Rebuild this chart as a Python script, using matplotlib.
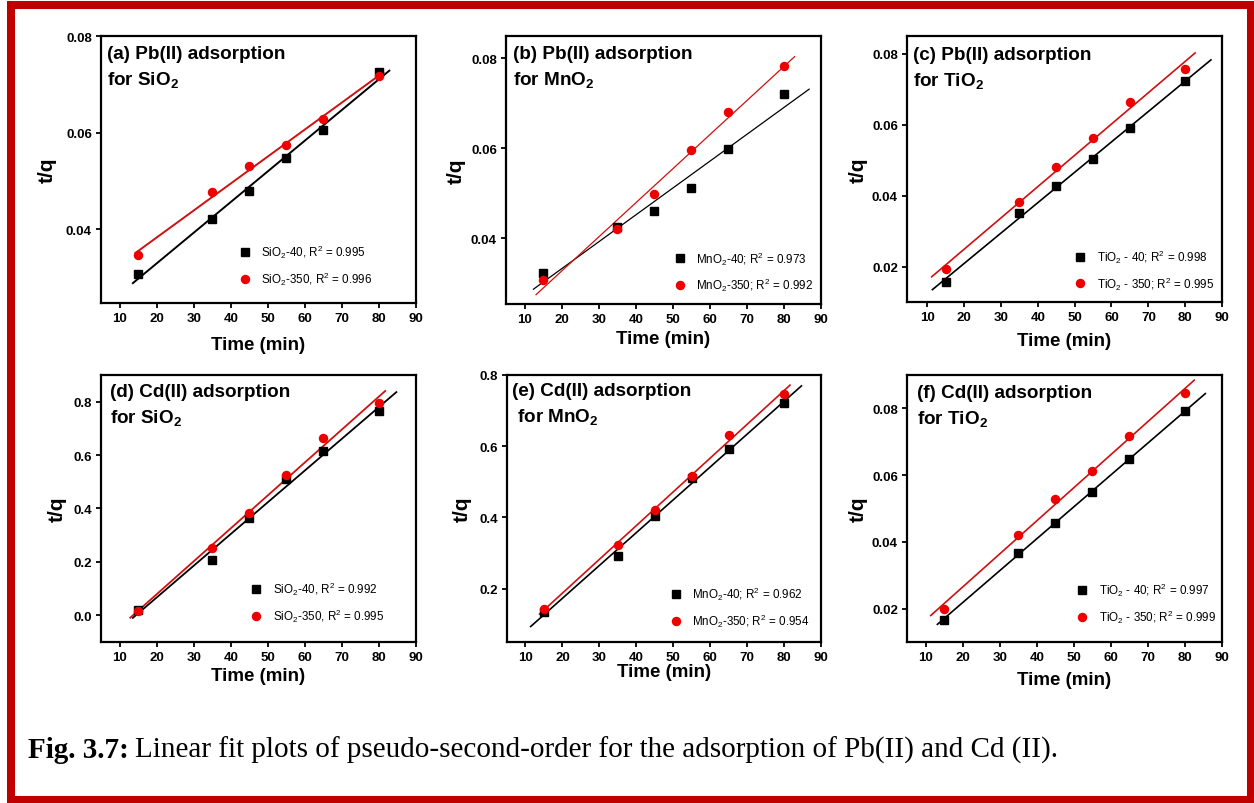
import matplotlib
matplotlib.use("Agg")
import matplotlib.pyplot as plt
from matplotlib.patches import Rectangle
import numpy as np

plt.rcParams['font.family'] = ['Liberation Sans', 'DejaVu Sans']
plt.rcParams['mathtext.default'] = 'regular'

# contact time (min)
time = [15, 35, 45, 55, 65, 80]

# t/q for Pb(II)
pb_sio2_40 = [0.0307, 0.0422, 0.0479, 0.0548, 0.0605, 0.0725]
pb_sio2_350 = [0.0346, 0.0477, 0.0530, 0.0574, 0.0629, 0.0718]
pb_mno2_40 = [0.0323, 0.0424, 0.0460, 0.0512, 0.0598, 0.0720]
pb_mno2_350 = [0.0307, 0.0420, 0.0499, 0.0596, 0.0681, 0.0784]
pb_tio2_40 = [0.0156, 0.0351, 0.0428, 0.0504, 0.0590, 0.0722]
pb_tio2_350 = [0.0192, 0.0383, 0.0480, 0.0562, 0.0663, 0.0757]

# t/q for Cd(II)
cd_sio2_40 = [0.020, 0.206, 0.364, 0.510, 0.616, 0.764]
cd_sio2_350 = [0.016, 0.251, 0.382, 0.526, 0.663, 0.794]
cd_mno2_40 = [0.133, 0.292, 0.404, 0.510, 0.591, 0.720]
cd_mno2_350 = [0.144, 0.322, 0.420, 0.517, 0.632, 0.748]
cd_tio2_40 = [0.0166, 0.0368, 0.0458, 0.0550, 0.0648, 0.0791]
cd_tio2_350 = [0.0200, 0.0421, 0.0528, 0.0611, 0.0718, 0.0845]

titles = ["(a) Pb(II) adsorption\nfor SiO$_2$",
          "(b) Pb(II) adsorption\nfor MnO$_2$",
          "(c) Pb(II) adsorption\nfor TiO$_2$",
          "(d) Cd(II) adsorption\nfor SiO$_2$",
          "(e) Cd(II) adsorption\n for MnO$_2$",
          "(f) Cd(II) adsorption\nfor TiO$_2$"]

labels_40 = ["SiO$_2$-40, R$^2$ = 0.995", "MnO$_2$-40; R$^2$ = 0.973",
             "TiO$_2$ - 40; R$^2$ = 0.998", "SiO$_2$-40, R$^2$ = 0.992",
             "MnO$_2$-40; R$^2$ = 0.962", "TiO$_2$ - 40; R$^2$ = 0.997"]
labels_350 = ["SiO$_2$-350, R$^2$ = 0.996", "MnO$_2$-350; R$^2$ = 0.992",
              "TiO$_2$ - 350; R$^2$ = 0.995", "SiO$_2$-350, R$^2$ = 0.995",
              "MnO$_2$-350; R$^2$ = 0.954", "TiO$_2$ - 350; R$^2$ = 0.999"]

series_40 = [pb_sio2_40, pb_mno2_40, pb_tio2_40, cd_sio2_40, cd_mno2_40, cd_tio2_40]
series_350 = [pb_sio2_350, pb_mno2_350, pb_tio2_350, cd_sio2_350, cd_mno2_350, cd_tio2_350]

yticks = [[0.04, 0.06, 0.08], [0.04, 0.06, 0.08], [0.02, 0.04, 0.06, 0.08],
          [0.0, 0.2, 0.4, 0.6, 0.8], [0.2, 0.4, 0.6, 0.8], [0.02, 0.04, 0.06, 0.08]]
ytick_fmt = ["%.2f", "%.2f", "%.2f", "%.1f", "%.1f", "%.2f"]
ylims = [(0.0247, 0.08), (0.0253, 0.085), (0.010, 0.085),
         (-0.10, 0.90), (0.05, 0.80), (0.010, 0.090)]
xlims = [(5, 90), (5, 90), (4.5, 90), (5, 90), (5, 90), (5, 90)]

# fit line extents (min)
fit_40_span = [(13.6, 82.8), (12.4, 86.8), (11.4, 87.0), (13.6, 84.7), (11.4, 84.7), (13.2, 85.5)]
fit_350_span = [(14.3, 81.2), (13.1, 82.9), (11.2, 82.7), (12.9, 81.7), (13.8, 81.6), (11.4, 82.5)]
fit_lw = [1.4, 0.9, 1.2, 1.3, 1.2, 1.2]

# axes boxes in pixels: left, top, right, bottom
W, H = 1254, 804
boxes = [(101, 37, 416, 304), (506, 37, 821, 305), (907, 37, 1222, 303),
         (101, 376, 416, 643), (507, 376, 821, 643), (907, 376, 1222, 643)]
title_pos = [(0.019, 0.965), (0.021, 0.967), (0.020, 0.963),
             (0.029, 0.969), (0.015, 0.973), (0.031, 0.965)]
legend_pos = [(0.437, 0.060), (0.532, 0.040), (0.531, 0.039),
              (0.474, 0.067), (0.518, 0.049), (0.536, 0.064)]
ylabel_x = [-0.170, -0.158, -0.154, -0.139, -0.142, -0.154]
xlabel_y = [-0.154, -0.127, -0.146, -0.124, -0.112, -0.139]

fig = plt.figure(figsize=(W / 100, H / 100), dpi=100)

for i in range(6):
    l, t, r, b = boxes[i]
    ax = fig.add_axes([l / W, 1 - b / H, (r - l) / W, (b - t) / H])

    for ys, span, col, lcol, mk, ms, lab in [
            (series_40[i], fit_40_span[i], 'black', 'black', 's', 5.2, labels_40[i]),
            (series_350[i], fit_350_span[i], '#EE0000', '#D01010', 'o', 5.8, labels_350[i])]:
        k, c0 = np.polyfit(time, ys, 1)
        xf = np.array(span)
        ax.plot(xf, k * xf + c0, color=lcol, lw=fit_lw[i], zorder=2)
        ax.plot(time, ys, ls='none', marker=mk, ms=ms, color=col, mec=col,
                label=lab, zorder=3)

    ax.set_xlim(*xlims[i])
    ax.set_ylim(*ylims[i])
    ax.set_xticks(range(10, 91, 10))
    ax.set_yticks(yticks[i])
    ax.set_yticklabels([ytick_fmt[i] % v for v in yticks[i]])
    ax.tick_params(direction='out', length=3.5, width=1.3, labelsize=9.5, pad=3)
    for lbl in ax.get_xticklabels() + ax.get_yticklabels():
        lbl.set_fontweight('bold')
    for sp in ax.spines.values():
        sp.set_linewidth(1.6)

    ax.set_xlabel("Time (min)", fontsize=13.5, fontweight='bold', va='center')
    ax.set_ylabel("t/q", fontsize=15, fontweight='bold', va='center')
    ax.xaxis.set_label_coords(0.5, xlabel_y[i])
    ax.yaxis.set_label_coords(ylabel_x[i], 0.5)

    ax.text(title_pos[i][0], title_pos[i][1], titles[i], transform=ax.transAxes,
            ha='left', va='top', fontsize=13.6, fontweight='bold', linespacing=1.45)

    ax.legend(loc='lower left', bbox_to_anchor=legend_pos[i], frameon=False,
              borderpad=0, borderaxespad=0, handlelength=1.05, handletextpad=0.9,
              labelspacing=0.8, prop={'family': ['Liberation Sans Narrow', 'Liberation Sans'],
                                      'size': 8.4})

# red frame round the figure
fig.patches.append(Rectangle((11 / W, 1 - 800.5 / H), (1250.5 - 11) / W, (800.5 - 6) / H,
                             transform=fig.transFigure, fill=False, ec='#C00000',
                             lw=5.8, joinstyle='miter'))

# caption: bold figure number followed by plain text
cap1 = fig.text(28 / W, 1 - 758 / H, "Fig. 3.7:", fontsize=21, fontweight='bold',
                family='Liberation Serif', va='baseline', ha='left')
fig.canvas.draw()
bb = cap1.get_window_extent()
fig.text((bb.x1 + 6) / W, 1 - 758 / H,
         "Linear fit plots of pseudo-second-order for the adsorption of Pb(II) and Cd (II).",
         fontsize=21, family='Liberation Serif', va='baseline', ha='left')

fig.savefig("out.png", dpi=100)
